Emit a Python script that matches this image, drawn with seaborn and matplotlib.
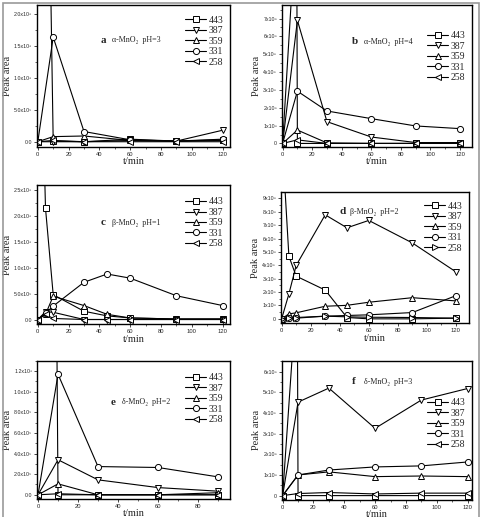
import numpy as np
import pandas as pd
import seaborn as sns
import matplotlib
matplotlib.use('Agg')
import matplotlib.pyplot as plt
from matplotlib.patches import Rectangle
from matplotlib.ticker import AutoMinorLocator

sns.set_theme(style='ticks')
plt.rcParams['font.family'] = ['Liberation Serif', 'DejaVu Serif']

# данные: время отбора проб (мин) и площади пиков по длинам волн
labels = ['443', '387', '359', '331', '258']

t_a = [0, 10, 30, 60, 90, 120]
a_443 = [15e6, 0.01e6, 0.0, 0.04e6, 0.01e6, 0.02e6]
a_387 = [0, 0.0, 0.0, 0.02e6, 0.01e6, 0.18e6]
a_359 = [0, 0.08e6, 0.09e6, 0.02e6, 0.01e6, 0.03e6]
a_331 = [0, 1.64e6, 0.16e6, 0.03e6, 0.01e6, 0.04e6]
a_258 = [0, 0.02e6, 0.0, 0.0, 0.0, 0.0]

t_b = [0, 10, 30, 60, 90, 120]
t_b443 = [0, 9.5, 10, 30, 60, 90, 120]
b_443 = [0, 13e6, 0.0, 0.0, 0.0, 0.0, 0.0]
b_387 = [0, 6.9e6, 1.22e6, 0.36e6, 0.05e6, 0.05e6]
b_359 = [0, 0.75e6, 0.03e6, 0.0, 0.0, 0.05e6]
b_331 = [0, 2.93e6, 1.82e6, 1.39e6, 0.98e6, 0.83e6]
b_258 = [0, 0.2e6, 0.0, 0.0, 0.0, 0.0]

t_c = [0, 5, 10, 30, 45, 60, 90, 120]
c_443 = [8e6, 2.15e6, 0.48e6, 0.16e6, 0.07e6, 0.03e6, 0.01e6, 0.01e6]
c_387 = [0, 0.15e6, 0.14e6, 0.0, 0.0, 0.0, 0.0, 0.0]
c_359 = [0, 0.1e6, 0.45e6, 0.27e6, 0.1e6, 0.03e6, 0.01e6, 0.01e6]
c_331 = [0, 0.12e6, 0.26e6, 0.72e6, 0.88e6, 0.8e6, 0.46e6, 0.27e6]
c_258 = [0, 0.1e6, 0.02e6, 0.0, 0.0, 0.0, 0.0, 0.0]

t_d = [0, 5, 10, 30, 45, 60, 90, 120]
d_443 = [14e6, 4.68e6, 3.19e6, 2.15e6, 0.1e6, 0.0, 0.0, 0.05e6]
d_387 = [0, 1.86e6, 3.99e6, 7.77e6, 6.8e6, 7.35e6, 5.67e6, 3.51e6]
d_359 = [0, 0.37e6, 0.45e6, 0.94e6, 1.01e6, 1.24e6, 1.58e6, 1.34e6]
d_331 = [0, 0.1e6, 0.1e6, 0.2e6, 0.25e6, 0.3e6, 0.47e6, 1.73e6]
d_258 = [0, 0.05e6, 0.05e6, 0.2e6, 0.15e6, 0.12e6, 0.1e6, 0.05e6]

t_e = [0, 10, 30, 60, 90]
e_443 = [26e6, 0.0, 0.0, 0.0, 0.0]
e_387 = [0, 0.34e6, 0.145e6, 0.07e6, 0.035e6]
e_359 = [0, 0.106e6, 0.0, 0.0, 0.02e6]
e_331 = [0, 1.17e6, 0.274e6, 0.265e6, 0.174e6]
e_258 = [0, 0.01e6, 0.0, 0.0, 0.0]

t_f = [0, 10, 30, 60, 90, 120]
t_f443 = [0, 9.5, 10, 30, 60, 90, 120]
f_443 = [0, 10.3e6, 0.0, 0.0, 0.0, 0.0, 0.0]
f_387 = [0, 4.53e6, 5.21e6, 3.26e6, 4.63e6, 5.19e6]
f_359 = [0, 1.0e6, 1.15e6, 0.92e6, 0.95e6, 0.92e6]
f_331 = [0, 1.0e6, 1.24e6, 1.39e6, 1.44e6, 1.63e6]
f_258 = [0, 0.1e6, 0.15e6, 0.08e6, 0.12e6, 0.12e6]

panels = [
    ('a', 'α-MnO₂  pH=3', [t_a] * 5, [a_443, a_387, a_359, a_331, a_258]),
    ('b', 'α-MnO₂  pH=4', [t_b443] + [t_b] * 4, [b_443, b_387, b_359, b_331, b_258]),
    ('c', 'β-MnO₂  pH=1', [t_c] * 5, [c_443, c_387, c_359, c_331, c_258]),
    ('d', 'β-MnO₂  pH=2', [t_d] * 5, [d_443, d_387, d_359, d_331, d_258]),
    ('e', 'δ-MnO₂  pH=2', [t_e] * 5, [e_443, e_387, e_359, e_331, e_258]),
    ('f', 'δ-MnO₂  pH=3', [t_f443] + [t_f] * 4, [f_443, f_387, f_359, f_331, f_258]),
]

# оформление каждой панели
boxes = {
    'a': [0.077, 0.716, 0.401, 0.275],
    'b': [0.586, 0.716, 0.395, 0.275],
    'c': [0.077, 0.373, 0.401, 0.269],
    'd': [0.584, 0.375, 0.391, 0.253],
    'e': [0.077, 0.035, 0.401, 0.267],
    'f': [0.586, 0.033, 0.395, 0.269],
}
xlims = {'a': (-0.5, 124.8), 'b': (-0.5, 128), 'c': (-0.5, 124.8),
         'd': (-0.5, 129), 'e': (-0.5, 96), 'f': (-0.5, 122.8)}
ylims = {'a': (-0.08e6, 2.15e6), 'b': (-0.19e6, 7.78e6), 'c': (-0.09e6, 2.6e6),
         'd': (-0.32e6, 9.45e6), 'e': (-0.04e6, 1.3e6), 'f': (-0.21e6, 6.53e6)}
yticks = {'a': [0, 0.5e6, 1.0e6, 1.5e6, 2.0e6],
          'b': [i * 1e6 for i in range(8)],
          'c': [0, 0.5e6, 1.0e6, 1.5e6, 2.0e6, 2.5e6],
          'd': [i * 1e6 for i in range(10)],
          'e': [0, 0.2e6, 0.4e6, 0.6e6, 0.8e6, 1.0e6, 1.2e6],
          'f': [i * 1e6 for i in range(7)]}
xticks = {'e': [0, 20, 40, 60, 80]}
decimal = {'a': True, 'b': False, 'c': True, 'd': False, 'e': True, 'f': False}
text_pos = {'a': (0.33, 0.75), 'b': (0.37, 0.74), 'c': (0.33, 0.73),
            'd': (0.31, 0.85), 'e': (0.38, 0.70), 'f': (0.37, 0.85)}
leg_pos = {'a': (1.0, 0.97), 'b': (1.0, 0.86), 'c': (1.0, 0.96),
           'd': (1.0, 0.98), 'e': (1.0, 0.96), 'f': (1.0, 0.78)}

sup = str.maketrans('0123456789', '⁰¹²³⁴⁵⁶⁷⁸⁹')


def fmt_tick(v, dec):
    if v == 0:
        return '0.0' if dec else '0'
    e = int(np.floor(np.log10(v) + 1e-9))
    m = v / 10 ** e
    s = f'{m:.1f}' if dec else f'{m:.0f}'
    return s + 'x10' + str(e).translate(sup)


fig = plt.figure(figsize=(4.81, 5.17), dpi=100)
fig.patches.append(Rectangle((0.006, -0.01), 0.99, 1.005, transform=fig.transFigure,
                             fill=False, edgecolor='#999999', lw=1.2))

for key, title, times, series in panels:
    ax = fig.add_axes(boxes[key])
    markers = ['s', 'v', '^', 'o', '>' if key == 'd' else '<']
    for name, t, vals, m in zip(labels, times, series, markers):
        sns.lineplot(x=t, y=vals, ax=ax, color='black', lw=0.8, marker=m,
                     markersize=4.4, markerfacecolor='white', markeredgecolor='black',
                     markeredgewidth=0.7, label=name, sort=False)
    ax.set_xlim(xlims[key])
    ax.set_ylim(ylims[key])
    ax.set_xticks(xticks.get(key, [0, 20, 40, 60, 80, 100, 120]))
    ax.set_yticks(yticks[key])
    ax.set_yticklabels([fmt_tick(v, decimal[key]) for v in yticks[key]],
                       family=['Liberation Sans', 'DejaVu Sans'], fontsize=3.8)
    ax.set_xticklabels([str(v) for v in ax.get_xticks().astype(int)],
                       family=['Liberation Sans', 'DejaVu Sans'], fontsize=4.2)
    ax.xaxis.set_minor_locator(AutoMinorLocator(2))
    ax.yaxis.set_minor_locator(AutoMinorLocator(2))
    ax.tick_params(which='major', direction='out', length=2, width=0.6, pad=1.5)
    ax.tick_params(which='minor', direction='out', length=1.2, width=0.5)
    for sp in ax.spines.values():
        sp.set_linewidth(1.0)
        sp.set_color('black')
    ax.set_xlabel('t/min', fontsize=7.5, labelpad=0.5)
    ax.set_ylabel('Peak area', fontsize=7.5, labelpad=1.5)
    tx, ty = text_pos[key]
    ax.text(tx, ty, key, transform=ax.transAxes, fontsize=8, fontweight='bold',
            va='center', ha='left')
    ax.text(tx + 0.06, ty, title, transform=ax.transAxes, fontsize=5.8,
            va='center', ha='left')
    ax.legend(loc='upper right', bbox_to_anchor=leg_pos[key], frameon=False,
              fontsize=7, handlelength=2.2, handletextpad=0.2,
              labelspacing=0.15, borderaxespad=0.3)

plt.savefig('out.png', dpi=100)
